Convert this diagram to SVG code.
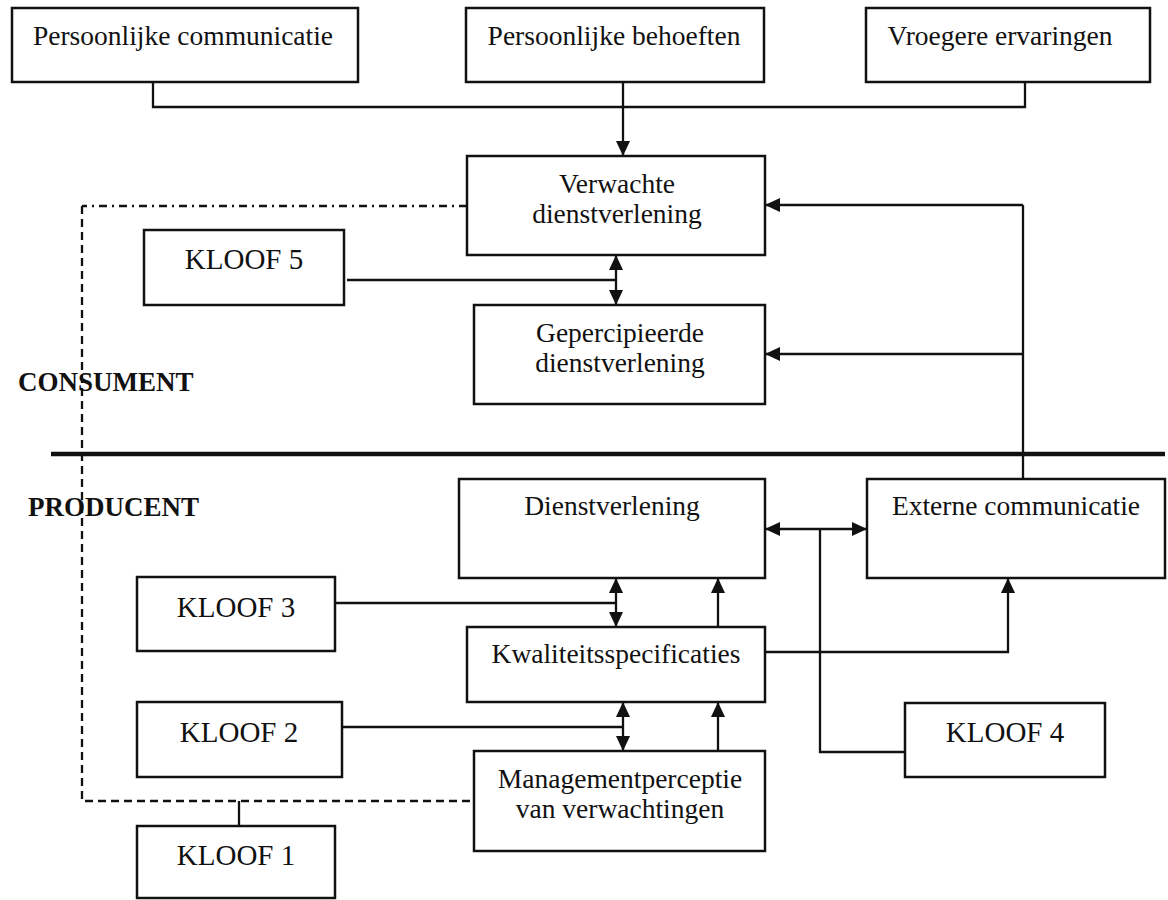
<svg xmlns="http://www.w3.org/2000/svg" width="1168" height="900" viewBox="0 0 1168 900">
<style>
.box{fill:#fff;stroke:#111;stroke-width:2.5}
.t{font-family:"Liberation Serif","Times New Roman",serif;font-size:27.5px;fill:#111;text-anchor:middle}
.k{font-size:29px}
.b{font-family:"Liberation Serif","Times New Roman",serif;font-size:27px;font-weight:bold;fill:#111}
.c{fill:none;stroke:#111;stroke-width:2.3}
.ae{marker-end:url(#ah)}
.ab{marker-start:url(#ah);marker-end:url(#ah)}
</style>
<defs>
<marker id="ah" markerUnits="userSpaceOnUse" markerWidth="16" markerHeight="15" refX="15" refY="7" orient="auto-start-reverse" viewBox="0 0 16 15">
<path d="M0,0 L15,7 L0,14 z" fill="#111"/>
</marker>
</defs>
<rect width="1168" height="900" fill="#fff"/>
<g id="connectors">
<path class="c" d="M153,82 V107 H1025 V82"/>
<path class="c ae" d="M623,82 V156"/>
<path class="c" d="M467,206 H82" stroke-dasharray="8,5,2,5"/>
<path class="c" d="M82,206 V801 H474" stroke-dasharray="8,5"/>
<path class="c" d="M239,801 V826"/>
<path class="c" d="M347,280 H616"/>
<path class="c ab" d="M616,255 V305"/>
<path class="c" d="M1023,479 V205"/>
<path class="c ae" d="M1023,205 H765"/>
<path class="c ae" d="M1023,354 H765"/>
<path d="M51,454 H1165" stroke="#111" stroke-width="4.5" fill="none"/>
<path class="c ab" d="M765,529 H867"/>
<path class="c" d="M820,529 V752 H905"/>
<path class="c" d="M336,603 H616"/>
<path class="c ab" d="M616,578 V627"/>
<path class="c ae" d="M718,627 V578"/>
<path class="c ae" d="M765,652 H1008 V578"/>
<path class="c" d="M342,727 H623"/>
<path class="c ab" d="M623,702 V751"/>
<path class="c ae" d="M718,751 V702"/>
</g>
<g id="persoonlijke-communicatie"><rect class="box" x="12" y="8" width="346" height="74"/><text class="t" x="183" y="45">Persoonlijke communicatie</text></g>
<g id="persoonlijke-behoeften"><rect class="box" x="466" y="8" width="298" height="74"/><text class="t" x="614" y="45">Persoonlijke behoeften</text></g>
<g id="vroegere-ervaringen"><rect class="box" x="866" y="8" width="284" height="74"/><text class="t" x="1000" y="45">Vroegere ervaringen</text></g>
<g id="verwachte-dienstverlening"><rect class="box" x="467" y="156" width="298" height="99"/><text class="t" x="617" y="193">Verwachte</text><text class="t" x="617" y="223">dienstverlening</text></g>
<g id="kloof5"><rect class="box" x="144" y="230" width="200" height="75"/><text class="t k" x="244" y="269">KLOOF 5</text></g>
<g id="gepercipieerde-dienstverlening"><rect class="box" x="474" y="305" width="291" height="99"/><text class="t" x="620" y="342">Gepercipieerde</text><text class="t" x="620" y="372">dienstverlening</text></g>
<g id="consument"><text class="b" x="18" y="391">CONSUMENT</text></g>
<g id="producent"><text class="b" x="28" y="516">PRODUCENT</text></g>
<g id="dienstverlening"><rect class="box" x="459" y="479" width="306" height="99"/><text class="t" x="612" y="515">Dienstverlening</text></g>
<g id="externe-communicatie"><rect class="box" x="867" y="479" width="298" height="99"/><text class="t" x="1016" y="515">Externe communicatie</text></g>
<g id="kloof3"><rect class="box" x="137" y="577" width="198" height="74"/><text class="t k" x="236" y="617">KLOOF 3</text></g>
<g id="kwaliteitsspecificaties"><rect class="box" x="467" y="627" width="298" height="75"/><text class="t" x="616" y="663">Kwaliteitsspecificaties</text></g>
<g id="kloof2"><rect class="box" x="137" y="702" width="205" height="75"/><text class="t k" x="239" y="742">KLOOF 2</text></g>
<g id="kloof4"><rect class="box" x="905" y="703" width="200" height="74"/><text class="t k" x="1005" y="742">KLOOF 4</text></g>
<g id="managementperceptie"><rect class="box" x="474" y="751" width="291" height="100"/><text class="t" x="620" y="788">Managementperceptie</text><text class="t" x="620" y="818">van verwachtingen</text></g>
<g id="kloof1"><rect class="box" x="137" y="826" width="198" height="72"/><text class="t k" x="236" y="865">KLOOF 1</text></g>
</svg>
